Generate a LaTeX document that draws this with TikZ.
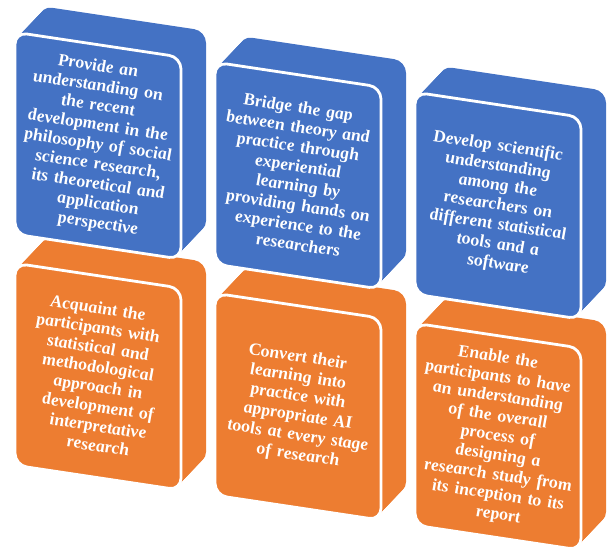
\documentclass[tikz,border=0pt]{standalone}
\usepackage{fontspec}
\setmainfont{Liberation Serif}
\newfontfamily\goalfont{Liberation Serif Bold Italic}
\definecolor{goalblue}{HTML}{4472C4}
\definecolor{goalorange}{HTML}{ED7D31}

% one block: name, x, y, colour, text
\newcommand{\goalbox}[5]{%
  \foreach \d in {0,...,25}
    \fill[#4, rounded corners=17pt] (#2+\d,#3-1.2*\d) rectangle ++(166,202);
  \node[face, fill=#4] (#1) at (#2+83,#3+101) {#5};
}

\begin{document}
\begin{tikzpicture}[x=0.5mm, y=-0.5mm,
  face/.style={rectangle, rounded corners=17pt, draw=white, line width=4pt,
    minimum width=83mm, minimum height=101mm, text width=78mm, align=center,
    inner sep=0pt, text=white, font=\goalfont\fontsize{25}{28}\selectfont,
    transform shape}]
\useasboundingbox (0,0) rectangle (610,549);
\begin{scope}[yslant=-0.15]
% lower row
\goalbox{acquaint}{15}{261}{goalorange}{Acquaint the\\participants with\\statistical and\\methodological\\approach in\\development of\\interpretative\\research}
\goalbox{convert}{215}{261}{goalorange}{Convert their\\learning into\\practice with\\appropriate AI\\tools at every stage\\of research}
\goalbox{enable}{415}{261}{goalorange}{Enable the\\participants to have\\an understanding\\of the overall\\process of\\designing a\\research study from\\its inception to its\\report}
% upper row
\goalbox{provide}{15}{30}{goalblue}{Provide an\\understanding on\\the recent\\development in the\\philosophy of social\\science research,\\its theoretical and\\application\\perspective}
\goalbox{bridge}{215}{30}{goalblue}{Bridge the gap\\between theory and\\practice through\\experiential\\learning by\\providing hands on\\experience to the\\researchers}
\goalbox{develop}{415}{30}{goalblue}{Develop scientific\\understanding\\among the\\researchers on\\different statistical\\tools and a\\software}
\end{scope}
\end{tikzpicture}
\end{document}
